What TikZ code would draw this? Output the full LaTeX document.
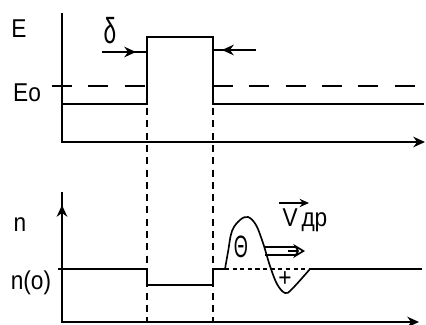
\documentclass[tikz,border=0pt]{standalone}
\usepackage{fontspec}
\setmainfont{Liberation Sans}
\usetikzlibrary{arrows.meta}
\tikzset{
  axis/.style={line width=1.8pt},
  curve/.style={line width=1.8pt, line join=miter},
  level/.style={line width=1.8pt, dash pattern=on 17pt off 14pt},
  guide/.style={line width=1.4pt, dash pattern=on 6pt off 4.5pt},
  base/.style={line width=1.2pt, dash pattern=on 3.5pt off 3pt},
  tip/.style={-{Stealth[length=10pt,width=9pt]}},
  lbl/.style={font=\fontsize{22}{26}\selectfont, inner sep=0pt, xscale=0.88},
}

\begin{document}
\begin{tikzpicture}[x=0.03cm, y=-0.03cm]
  \useasboundingbox (0,0) rectangle (426,324);
  \def\xa{147}\def\xb{213}
  % energy plot
  \coordinate (eo) at (62,13);
  \coordinate (ex) at (62,142);
  \coordinate (ee) at (425,142);
  \draw[axis] (eo) -- (ex) -- (405,142);
  \draw[axis, tip] (400,142) -- (ee);
  \draw[curve] (62,104) -- (\xa,104) -- (\xa,37) -- (\xb,37) -- (\xb,104) -- (424,104);
  \draw[level] (52,86) -- (\xa,86);
  \draw[level] (\xb,86) -- (424,86);
  \coordinate (la) at (102,52); \coordinate (lb) at (\xa,52);
  \coordinate (ra) at (256,50); \coordinate (rb) at (\xb,50);
  \draw[axis] (la) -- (lb);
  \draw[axis, tip] (la) -- (136,52);
  \draw[axis] (ra) -- (rb);
  \draw[axis, tip] (ra) -- (222,50);
  \node[lbl] (E) at (19,29) {E};
  \node[lbl] (E0) at (27,93) {Eo};
  \node[lbl, yscale=1.4] (dl) at (110,31) {δ};
  % guides
  \draw[guide] (\xa,108) -- (\xa,322);
  \draw[guide] (\xb,108) -- (\xb,322);
  % density plot
  \coordinate (no) at (62,192);
  \coordinate (nx) at (62,322);
  \coordinate (ne) at (419,322);
  \draw[axis] (no) -- (nx) -- (400,322);
  \draw[axis, tip] (62,240) -- (62,205);
  \draw[axis, tip] (395,322) -- (ne);
  \draw[curve] (58,269) -- (\xa,269) -- (\xa,285) -- (\xb,285) -- (\xb,269) -- (225,269);
  \draw[line width=1.4pt] plot[smooth, tension=0.6] coordinates
    {(225,269) (228,252) (232,231) (240,220) (248,217) (256,225) (263,243)
     (270,266) (277,284) (285,293) (292,289) (310,269)};
  \draw[curve] (310,269) -- (422,269);
  \draw[base] (225,269) -- (310,269);
  \node[lbl, xscale=0.8, yscale=1.2] (th) at (241,247) {Θ};
  \node[lbl] (pl) at (285,279) {+};
  % drift
  \draw[line width=1.4pt] (265,247) -- (296,247);
  \draw[line width=1.4pt] (265,255) -- (296,255);
  \draw[line width=1.4pt, -{Stealth[open,length=10pt,width=12pt]}] (288,251) -- (305,251);
  \node[lbl] (vd) at (305,220) {V\,др};
  \draw[line width=1.4pt, -{Stealth[length=8pt,width=7pt]}] (279,203) -- (309,203);
  \node[lbl] (n) at (20,225) {n};
  \node[lbl] (n0) at (31,283) {n(o)};
\end{tikzpicture}
\end{document}
